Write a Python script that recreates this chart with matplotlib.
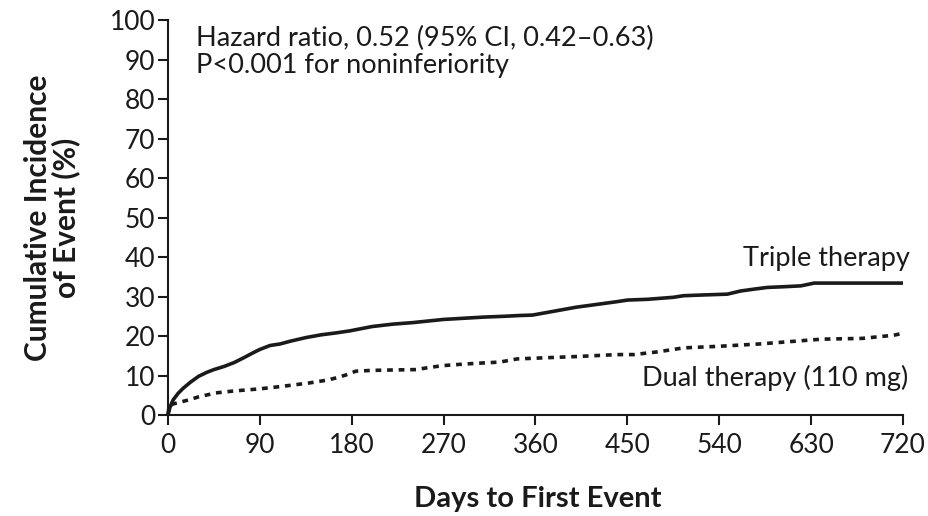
"""Cumulative incidence curves: triple vs dual therapy (110 mg)."""

import matplotlib

matplotlib.use("Agg")
import matplotlib.pyplot as plt

# values
triple_days = [0, 2, 5, 10, 15, 22, 30, 38, 45, 55, 65, 75, 83, 90, 100, 110, 120,
               135, 150, 165, 178, 190, 200, 220, 240, 255, 270, 290, 310, 330,
               345, 357, 370, 385, 400, 420, 440, 450, 470, 495, 505, 525, 548,
               561, 575, 587, 605, 620, 633, 660, 690, 720]
triple_pct = [0, 2.0, 3.8, 5.5, 6.8, 8.3, 9.8, 10.8, 11.5, 12.3, 13.3, 14.6, 15.7,
              16.6, 17.6, 18.0, 18.7, 19.6, 20.3, 20.8, 21.3, 21.9, 22.4, 23.0,
              23.4, 23.8, 24.2, 24.5, 24.8, 25.0, 25.2, 25.3, 25.9, 26.6, 27.3,
              28.0, 28.7, 29.1, 29.3, 29.8, 30.2, 30.4, 30.6, 31.4, 31.9, 32.3,
              32.5, 32.7, 33.4, 33.4, 33.4, 33.4]

dual_days = [0, 1, 5, 11, 20, 30, 47, 65, 89, 110, 138, 155, 165, 175, 184, 200,
             220, 243, 255, 269, 290, 310, 325, 342, 370, 400, 440, 456, 480, 505,
             540, 580, 610, 640, 680, 711, 720]
dual_pct = [0, 2.2, 2.8, 3.2, 3.8, 4.6, 5.6, 6.1, 6.6, 7.2, 8.1, 8.8, 9.4, 10.2,
            11.1, 11.3, 11.4, 11.5, 12.0, 12.5, 12.9, 13.2, 13.4, 14.2, 14.5,
            14.8, 15.3, 15.3, 16.0, 17.0, 17.4, 18.0, 18.6, 19.2, 19.4, 20.2, 20.7]

x_ticks = [0, 90, 180, 270, 360, 450, 540, 630, 720]
y_ticks = [0, 10, 20, 30, 40, 50, 60, 70, 80, 90, 100]

INK = "#1a1a1a"
FONT = ["Lato", "DejaVu Sans"]

plt.rcParams["font.family"] = FONT

fig = plt.figure(figsize=(9.29, 5.16), dpi=100)
ax = fig.add_axes([0.1808, 0.1957, 0.7912, 0.7655])

ax.plot(triple_days, triple_pct, color=INK, lw=2.6, clip_on=False,
        solid_capstyle="butt")
ax.plot(dual_days, dual_pct, color=INK, lw=2.6, clip_on=False,
        dashes=(1.6, 1.6), dash_capstyle="butt")

ax.set_xlim(0, 720)
ax.set_ylim(0, 100)
ax.set_xticks(x_ticks)
ax.set_yticks(y_ticks)
ax.tick_params(axis="both", direction="out", length=7, width=1.5,
               labelsize=19, colors=INK)
ax.tick_params(axis="x", pad=6)
ax.tick_params(axis="y", pad=2)

for side in ("top", "right"):
    ax.spines[side].set_visible(False)
for side in ("left", "bottom"):
    ax.spines[side].set_linewidth(1.5)
    ax.spines[side].set_color(INK)

ax.set_ylabel("Cumulative Incidence\nof Event (%)", fontsize=21.5,
              fontweight="bold", color=INK, linespacing=0.95)
ax.yaxis.set_label_coords(-0.12, 0.5)
ax.set_xlabel("Days to First Event", fontsize=21, fontweight="bold",
              color=INK)
ax.xaxis.set_label_coords(0.5025, -0.18)

ax.text(0.038, 0.985, "Hazard ratio, 0.52 (95% CI, 0.42\u20130.63)\n"
        "P<0.001 for noninferiority", transform=ax.transAxes, fontsize=19.5,
        color=INK, va="top", ha="left", linespacing=1.1)
ax.text(1.01, 39.5, "Triple therapy", fontsize=19.5, color=INK, ha="right",
        va="center", transform=ax.get_yaxis_transform())
ax.text(1.007, 9.3, "Dual therapy (110 mg)", fontsize=19.5, color=INK,
        ha="right", va="center", transform=ax.get_yaxis_transform())

fig.savefig("out.png", dpi=100)
